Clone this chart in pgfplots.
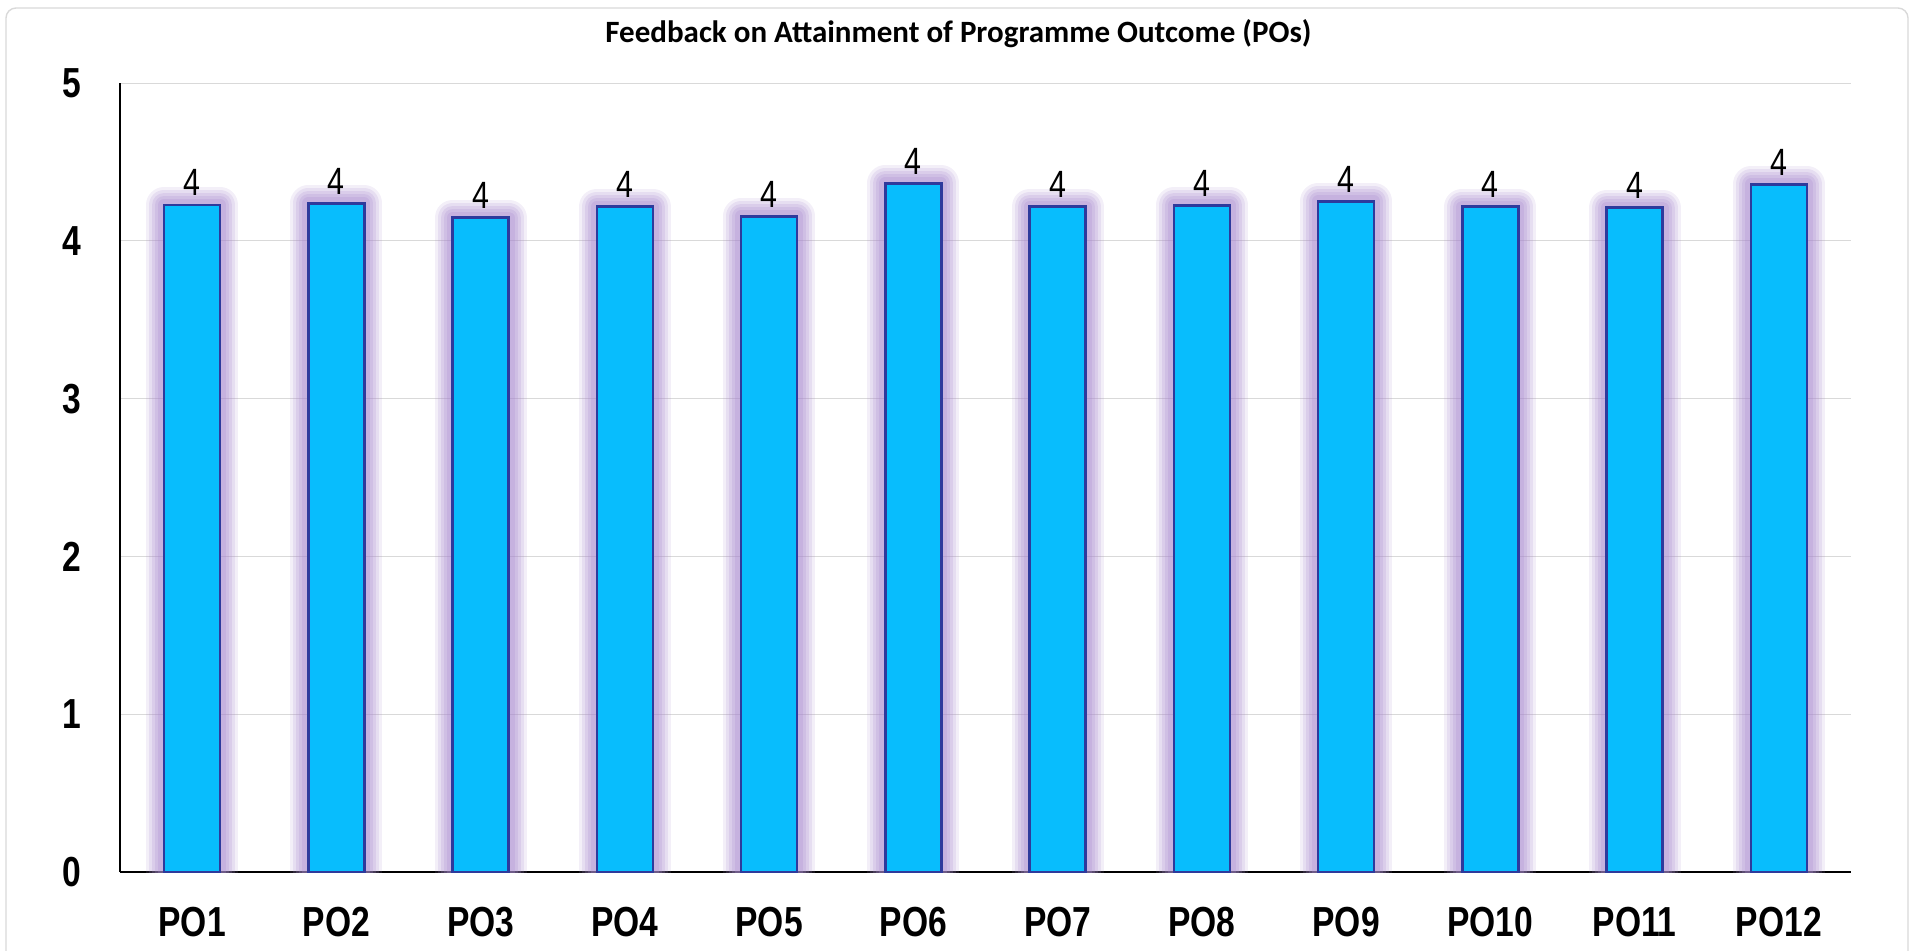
\documentclass[border=0pt]{standalone}
\usepackage{fontspec}
\setmainfont{Liberation Sans}
\newfontfamily\titlefont{Carlito}
\newfontfamily\narrowfont[FakeStretch=0.8]{Liberation Sans}
\usepackage{pgfplots}
\pgfplotsset{compat=1.18}
\definecolor{barfill}{HTML}{08BDFD}
\definecolor{barhi}{HTML}{7FE3FF}
\definecolor{barline}{HTML}{2E3A9C}
\definecolor{glow}{HTML}{A98BCF}
\definecolor{gridc}{HTML}{D9D9D9}
\pgfdeclareverticalshading{barshade}{100bp}{color(0bp)=(barfill); color(98.3bp)=(barfill); color(99.1bp)=(barhi); color(100bp)=(barfill)}
\begin{document}
\begin{tikzpicture}[x=1pt,y=1pt]
\useasboundingbox (-60,-39) rectangle (898.5,436);
\draw[gridc, line width=0.7pt, rounded corners=5pt] (-57,-50) rectangle (894,432);
\begin{axis}[at={(0,0)}, anchor=south west, scale only axis,
  width=865.5pt, height=394.5pt,
  xmin=-0.5, xmax=11.5, ymin=0, ymax=5,
  ytick={0,1,2,3,4,5}, xtick={0,...,11},
  xticklabels={PO1,PO2,PO3,PO4,PO5,PO6,PO7,PO8,PO9,PO10,PO11,PO12},
  axis x line*=bottom, axis y line*=left,
  axis line style={black, line width=0.7pt},
  major tick length=0pt,
  ymajorgrids, grid style={gridc, line width=0.5pt},
  /pgf/number format/assume math mode=true,
  yticklabel style={font=\narrowfont\bfseries\fontsize{21}{24}\selectfont, xshift=-16pt},
  xticklabel style={font=\narrowfont\bfseries\fontsize{21}{24}\selectfont, yshift=-14pt},
  ybar, bar width=28pt,
  nodes near coords={4},
  every node near coord/.append style={font=\narrowfont\fontsize{19}{22}\selectfont, inner sep=0pt, yshift=4pt, black},
]
\addplot[shading=barshade, draw=barline, line width=1.2pt,
  preaction={draw=glow, opacity=0.14, line width=18pt, line join=round},
  preaction={draw=glow, opacity=0.17, line width=15pt, line join=round},
  preaction={draw=glow, opacity=0.20, line width=12pt, line join=round},
  preaction={draw=glow, opacity=0.22, line width=9pt, line join=round},
  preaction={draw=glow, opacity=0.25, line width=6pt, line join=round}
] coordinates {
(0,4.227) (1,4.237) (2,4.147) (3,4.217) (4,4.155) (5,4.364)
(6,4.217) (7,4.225) (8,4.25) (9,4.217) (10,4.21) (11,4.357)
};
\end{axis}
\node[font=\titlefont\bfseries\fontsize{15.5}{18}\selectfont] at (419.25,419) {Feedback on Attainment of Programme Outcome (POs)};
\end{tikzpicture}
\end{document}
